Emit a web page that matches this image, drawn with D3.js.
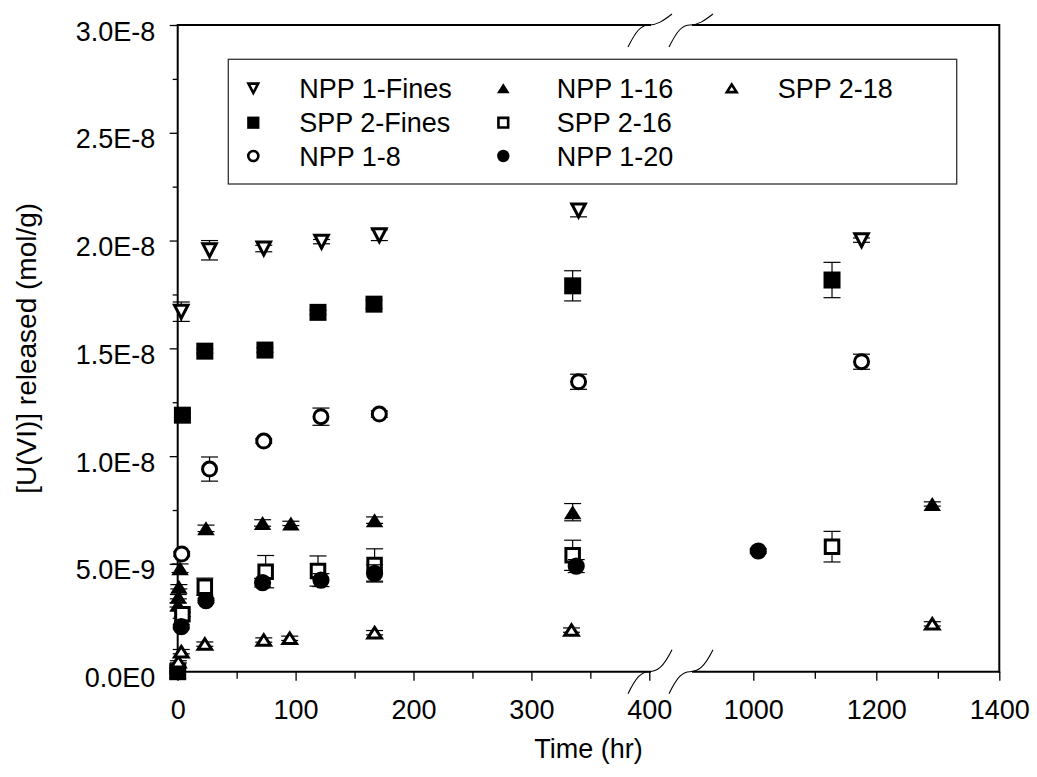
<!DOCTYPE html>
<html>
<head>
<meta charset="utf-8">
<script src="https://cdn.jsdelivr.net/npm/d3@7"></script>
<style>
body { margin: 0; background: #fff; }
text { font-family: "Liberation Sans", Arial, sans-serif; fill: #000; }
</style>
</head>
<body>
<div id="chart"></div>
<script>
var width = 1037;
var height = 777;

// data, values in mol/g
var npp1FinesTime = [3, 27, 73, 122, 171, 340, 1176];
var npp1FinesVal = [1.67e-8, 1.955e-8, 1.963e-8, 1.995e-8, 2.025e-8, 2.14e-8, 2.002e-8];
var npp1FinesErr = [0.045e-8, 0.045e-8, 0.015e-8, 0.01e-8, 0.025e-8, 0.03e-8, 0.01e-8];

var spp2FinesTime = [0, 4, 23, 74, 119, 166.5, 335, 1128];
var spp2FinesVal = [0, 1.19e-8, 1.487e-8, 1.492e-8, 1.667e-8, 1.705e-8, 1.79e-8, 1.817e-8];
var spp2FinesErr = [0, 0.01e-8, 0.01e-8, 0.01e-8, 0.01e-8, 0.02e-8, 0.07e-8, 0.082e-8];

var npp18Time = [3.4, 27, 73, 121.5, 171, 340, 1176];
var npp18Val = [0.546e-8, 0.94e-8, 1.07e-8, 1.183e-8, 1.195e-8, 1.345e-8, 1.438e-8];
var npp18Err = [0.01e-8, 0.056e-8, 0.01e-8, 0.04e-8, 0.015e-8, 0.035e-8, 0.035e-8];

var npp116Time = [0, 0.25, 0.5, 1, 2, 24, 72, 96, 167, 335, 1291];
var npp116Val = [0, 0.31e-8, 0.348e-8, 0.394e-8, 0.48e-8, 0.665e-8, 0.69e-8, 0.688e-8, 0.703e-8, 0.74e-8, 0.778e-8];
var npp116Err = [0, 0.01e-8, 0.01e-8, 0.01e-8, 0.02e-8, 0.015e-8, 0.015e-8, 0.01e-8, 0.015e-8, 0.04e-8, 0.01e-8];

var spp216Time = [4, 23, 74.6, 119, 167, 335, 1128];
var spp216Val = [0.266e-8, 0.394e-8, 0.464e-8, 0.467e-8, 0.495e-8, 0.54e-8, 0.58e-8];
var spp216Err = [0.01e-8, 0.04e-8, 0.075e-8, 0.07e-8, 0.075e-8, 0.07e-8, 0.071e-8];

var npp120Time = [0, 3, 24, 72, 121.5, 167, 338, 1008];
var npp120Val = [0, 0.209e-8, 0.33e-8, 0.413e-8, 0.425e-8, 0.456e-8, 0.49e-8, 0.56e-8];
var npp120Err = [0, 0.01e-8, 0.01e-8, 0.02e-8, 0.03e-8, 0.04e-8, 0.03e-8, 0.01e-8];

var spp218Time = [0.5, 3, 23, 73, 95, 167, 334, 1291];
var spp218Val = [0.046e-8, 0.093e-8, 0.128e-8, 0.147e-8, 0.155e-8, 0.181e-8, 0.193e-8, 0.222e-8];
var spp218Err = [0.005e-8, 0.01e-8, 0.01e-8, 0.01e-8, 0.01e-8, 0.01e-8, 0.01e-8, 0.01e-8];

var seriesNames = ['NPP 1-Fines', 'SPP 2-Fines', 'NPP 1-8', 'NPP 1-16', 'SPP 2-16', 'NPP 1-20', 'SPP 2-18'];

var xTicksLeft = [0, 100, 200, 300, 400];
var xMinorLeft = [50, 150, 250, 350];
var xTicksRight = [1000, 1200, 1400];
var xMinorRight = [1100, 1300];
var yTicks = [0, 0.5e-8, 1.0e-8, 1.5e-8, 2.0e-8, 2.5e-8, 3.0e-8];
var yMinor = [0.25e-8, 0.75e-8, 1.25e-8, 1.75e-8, 2.25e-8, 2.75e-8];

var series = [
    {name: seriesNames[0], t: npp1FinesTime, v: npp1FinesVal, e: npp1FinesErr, shape: 'down', filled: false},
    {name: seriesNames[1], t: spp2FinesTime, v: spp2FinesVal, e: spp2FinesErr, shape: 'square', filled: true},
    {name: seriesNames[2], t: npp18Time, v: npp18Val, e: npp18Err, shape: 'circle', filled: false},
    {name: seriesNames[3], t: npp116Time, v: npp116Val, e: npp116Err, shape: 'up', filled: true},
    {name: seriesNames[4], t: spp216Time, v: spp216Val, e: spp216Err, shape: 'square', filled: false},
    {name: seriesNames[5], t: npp120Time, v: npp120Val, e: npp120Err, shape: 'circle', filled: true},
    {name: seriesNames[6], t: spp218Time, v: spp218Val, e: spp218Err, shape: 'up', filled: false}
];

var plotLeft = 177.7, plotRight = 999.3, plotTop = 25, plotBottom = 671.7;
var break1 = 651, break2 = 692;

var xLeft = d3.scaleLinear().domain([0, 400]).range([plotLeft, 649.3]);
var xRight = d3.scaleLinear().domain([1000, 1400]).range([753.3, plotRight]);
var y = d3.scaleLinear().domain([0, 3e-8]).range([plotBottom, plotTop]);

function xPos(t) {
    return t <= 400 ? xLeft(t) : xRight(t);
}

function yFormat(d) {
    return d.toExponential(1).replace('e+', 'E').replace('e', 'E');
}

// marker path centred on its bounding box
function markerPath(shape, filled, k) {
    var p = d3.path();
    var w, h;
    if (shape === 'square') {
        w = (filled ? 17 : 13.5) * k;
        p.rect(-w / 2, -w / 2, w, w);
    } else if (shape === 'circle') {
        var r = (filled ? 8.6 : 7) * k;
        p.arc(0, 0, r, 0, 2 * Math.PI);
        p.closePath();
    } else if (shape === 'up') {
        w = (filled ? 17.5 : 13.5) * k;
        h = (filled ? 14 : 10.5) * k;
        p.moveTo(0, -h / 2);
        p.lineTo(w / 2, h / 2);
        p.lineTo(-w / 2, h / 2);
        p.closePath();
    } else {
        w = 13.5 * k;
        h = 13 * k;
        p.moveTo(-w / 2, -h / 2);
        p.lineTo(w / 2, -h / 2);
        p.lineTo(0, h / 2);
        p.closePath();
    }
    return p.toString();
}

var svg = d3.select('#chart')
    .append('svg')
    .attr('width', width)
    .attr('height', height);

svg.append('rect')
    .attr('width', width)
    .attr('height', height)
    .style('fill', 'white');

// axes
var axisFont = 27;

function styleAxis(g) {
    g.select('.domain').remove();
    g.selectAll('.tick line').style('stroke', '#000').style('stroke-width', 1.3);
    g.selectAll('text').style('font-size', axisFont + 'px').style('font-family', '"Liberation Sans", Arial, sans-serif');
}

svg.append('g')
    .attr('transform', 'translate(0,' + plotBottom + ')')
    .call(d3.axisBottom(xLeft).tickValues(xTicksLeft).tickSize(9).tickPadding(19).tickFormat(d3.format('d')))
    .call(styleAxis);
svg.append('g')
    .attr('transform', 'translate(0,' + plotBottom + ')')
    .call(d3.axisBottom(xLeft).tickValues(xMinorLeft).tickSize(7).tickFormat(''))
    .call(styleAxis);
svg.append('g')
    .attr('transform', 'translate(0,' + plotBottom + ')')
    .call(d3.axisBottom(xRight).tickValues(xTicksRight).tickSize(9).tickPadding(19).tickFormat(d3.format('d')))
    .call(styleAxis);
svg.append('g')
    .attr('transform', 'translate(0,' + plotBottom + ')')
    .call(d3.axisBottom(xRight).tickValues(xMinorRight).tickSize(7).tickFormat(''))
    .call(styleAxis);

var yAxisG = svg.append('g')
    .attr('transform', 'translate(' + plotLeft + ',0)')
    .call(d3.axisLeft(y).tickValues(yTicks).tickSize(8).tickPadding(14.5).tickFormat(yFormat))
    .call(styleAxis);
yAxisG.selectAll('text').attr('dy', '15px');
svg.append('g')
    .attr('transform', 'translate(' + plotLeft + ',0)')
    .call(d3.axisLeft(y).tickValues(yMinor).tickSize(5).tickFormat(''))
    .call(styleAxis);

// frame with the axis break
var frame = svg.append('g')
    .style('stroke', '#000')
    .style('stroke-width', 2)
    .style('fill', 'none');
frame.append('line').attr('x1', plotLeft).attr('x2', plotLeft).attr('y1', plotTop - 1).attr('y2', plotBottom + 1);
frame.append('line').attr('x1', plotRight).attr('x2', plotRight).attr('y1', plotTop - 1).attr('y2', plotBottom + 1);
[plotTop, plotBottom].forEach(function (yy) {
    frame.append('line').attr('x1', plotLeft).attr('x2', break1).attr('y1', yy).attr('y2', yy);
    frame.append('line').attr('x1', break2).attr('x2', plotRight).attr('y1', yy).attr('y2', yy);
});

function breakPath(c, yy, up) {
    var p = d3.path();
    p.moveTo(c - 23, yy + 22);
    p.bezierCurveTo(c - 15, yy + 6, c - 10, yy, c - 2, yy);
    p.bezierCurveTo(c + 6, yy, c + 12, yy - 4, c + 21, yy - up);
    return p.toString();
}
[break1, break2].forEach(function (c) {
    svg.append('path')
        .attr('d', breakPath(c, plotTop, 11))
        .style('fill', 'none').style('stroke', '#000').style('stroke-width', 1.1);
    svg.append('path')
        .attr('d', breakPath(c, plotBottom, 22))
        .style('fill', 'none').style('stroke', '#000').style('stroke-width', 1.1);
});

// axis titles
svg.append('text')
    .attr('x', (plotLeft + plotRight) / 2)
    .attr('y', 758)
    .attr('text-anchor', 'middle')
    .style('font-size', '27px')
    .text('Time (hr)');

svg.append('text')
    .attr('transform', 'translate(36,' + ((plotTop + plotBottom) / 2) + ') rotate(-90)')
    .attr('text-anchor', 'middle')
    .style('font-size', '28px')
    .text('[U(VI)] released (mol/g)');

// data: error bars sit under the symbols
var capW = 17;
series.forEach(function (s) {
    var pts = s.t.map(function (t, i) {
        return {x: xPos(t), y: y(s.v[i]), lo: y(s.v[i] - s.e[i]), hi: y(s.v[i] + s.e[i]), e: s.e[i]};
    });
    var withErr = pts.filter(function (d) { return d.e > 0; });
    var g = svg.append('g');
    g.selectAll('line.stem')
        .data(withErr)
        .enter().append('line')
        .attr('class', 'stem')
        .attr('x1', function (d) { return d.x; })
        .attr('x2', function (d) { return d.x; })
        .attr('y1', function (d) { return d.hi; })
        .attr('y2', function (d) { return d.lo; })
        .style('stroke', '#000').style('stroke-width', 1.2);
    var caps = [];
    withErr.forEach(function (d) {
        caps.push({x: d.x, y: d.hi});
        caps.push({x: d.x, y: d.lo});
    });
    g.selectAll('line.cap')
        .data(caps)
        .enter().append('line')
        .attr('class', 'cap')
        .attr('x1', function (d) { return d.x - capW / 2; })
        .attr('x2', function (d) { return d.x + capW / 2; })
        .attr('y1', function (d) { return d.y; })
        .attr('y2', function (d) { return d.y; })
        .style('stroke', '#000').style('stroke-width', 1.2);
    g.selectAll('path.mark')
        .data(pts)
        .enter().append('path')
        .attr('class', 'mark')
        .attr('transform', function (d) { return 'translate(' + d.x + ',' + d.y + ')'; })
        .attr('d', markerPath(s.shape, s.filled, 1))
        .style('fill', s.filled ? '#000' : '#fff')
        .style('stroke', s.filled ? 'none' : '#000')
        .style('stroke-width', 3)
        .style('stroke-linejoin', 'miter');
});

// legend
var legendBox = {x: 228.3, y: 59.3, w: 728.4, h: 124.7};
svg.append('rect')
    .attr('x', legendBox.x)
    .attr('y', legendBox.y)
    .attr('width', legendBox.w)
    .attr('height', legendBox.h)
    .style('fill', 'white')
    .style('stroke', '#333')
    .style('stroke-width', 1.3);

var legendColX = [253.3, 503.3, 731.7];
var legendRowY = [88.3, 122.7, 156];
series.forEach(function (s, i) {
    var col = Math.floor(i / 3), row = i % 3;
    var lx = legendColX[col], ly = legendRowY[row];
    svg.append('path')
        .attr('transform', 'translate(' + lx + ',' + ly + ')')
        .attr('d', markerPath(s.shape, s.filled, 0.72))
        .style('fill', s.filled ? '#000' : '#fff')
        .style('stroke', s.filled ? 'none' : '#000')
        .style('stroke-width', 2.6);
    svg.append('text')
        .attr('x', lx + (col === 1 ? 53.4 : 46))
        .attr('y', ly + 9.6)
        .style('font-size', '27px')
        .text(s.name);
});
</script>
</body>
</html>
